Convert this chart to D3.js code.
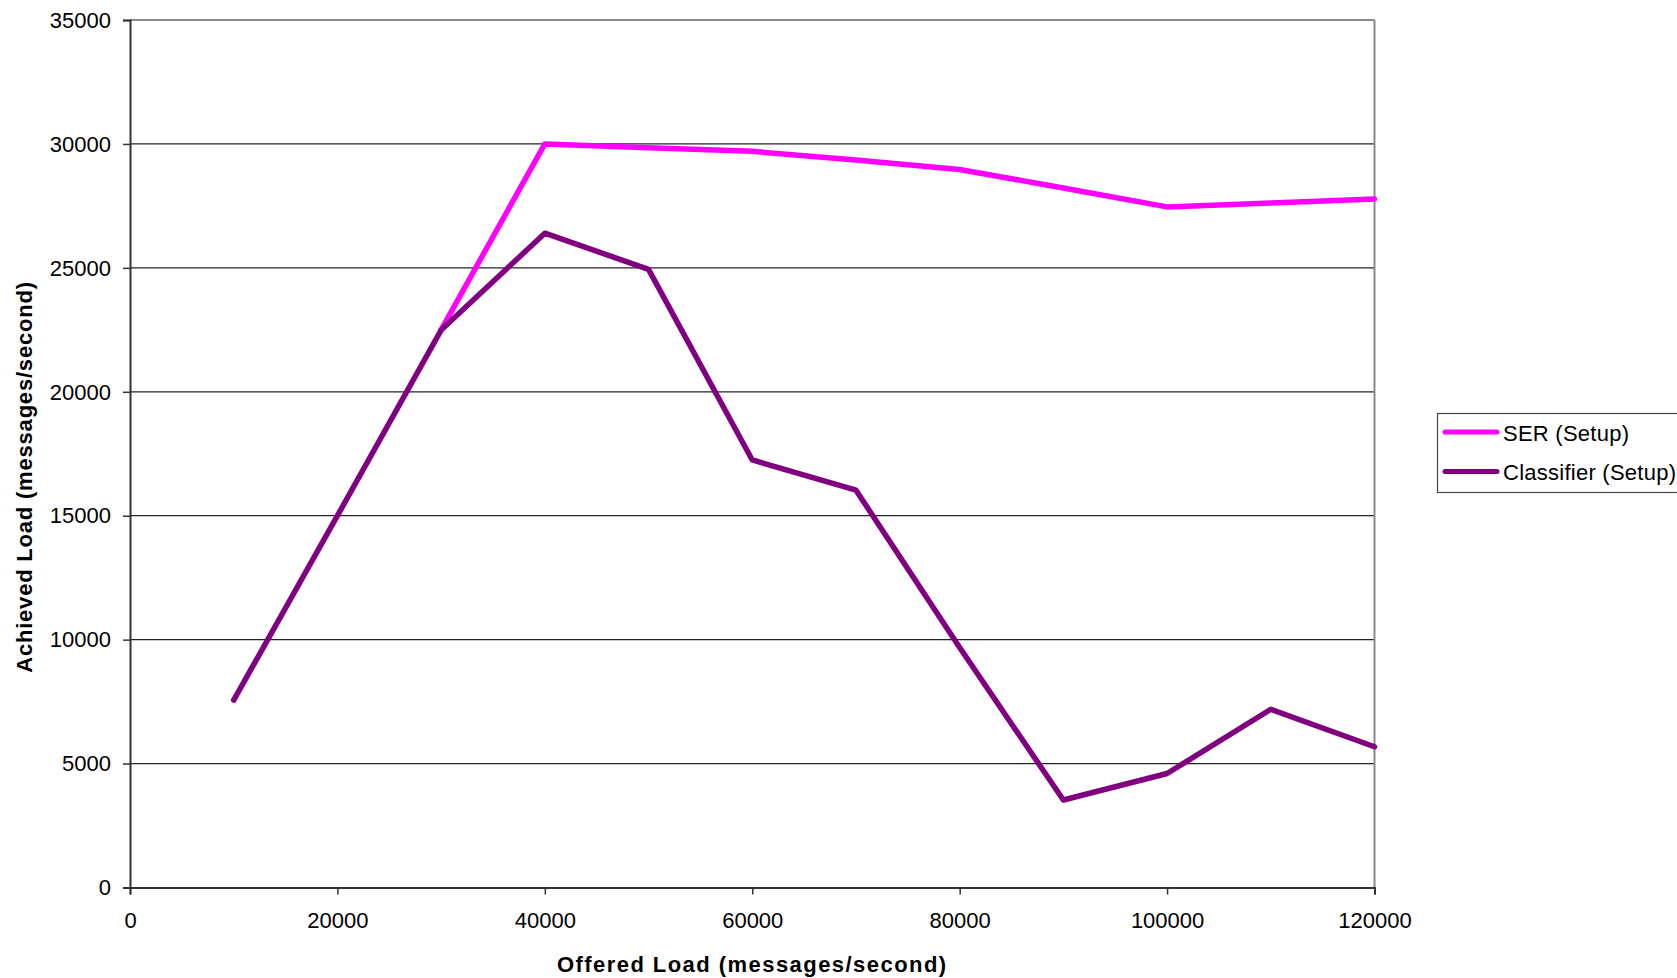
<!DOCTYPE html>
<html>
<head>
<meta charset="utf-8">
<script src="https://cdn.jsdelivr.net/npm/d3@7"></script>
<style>
  html, body { margin: 0; padding: 0; background: #fff; overflow: hidden; }
  svg { display: block; font-family: "Liberation Sans", Arial, sans-serif; }
</style>
</head>
<body>
<svg id="chart" width="1677" height="978"></svg>
<script>
// ---- data ----
const serX = [30000, 40000, 50000, 60000, 70000, 80000, 90000, 100000, 110000, 120000];
const serY = [22500, 30000, 29850, 29700, 29350, 28970, 28220, 27460, 27620, 27780];
const clsX = [10000, 20000, 30000, 40000, 50000, 60000, 70000, 80000, 90000, 100000, 110000, 120000];
const clsY = [7560, 15000, 22490, 26400, 24940, 17250, 16030, 9680, 3530, 4600, 7190, 5680];
const xTicks = [0, 20000, 40000, 60000, 80000, 100000, 120000];
const yTicks = [0, 5000, 10000, 15000, 20000, 25000, 30000, 35000];
const seriesNames = ["SER (Setup)", "Classifier (Setup)"];
const seriesColors = ["#FF00FF", "#800080"];
const xTitle = "Offered Load (messages/second)";
const yTitle = "Achieved Load (messages/second)";

// ---- layout ----
const svg = d3.select("#chart");
const L = 130, R = 1374.5, T = 20, B = 887.5;
const x = d3.scaleLinear().domain([0, 120000]).range([L, R]);
const y = d3.scaleLinear().domain([0, 35000]).range([B, T]);

// gridlines
svg.append("g")
  .selectAll("line")
  .data(yTicks.filter(d => d > 0 && d < 35000))
  .join("line")
  .attr("x1", L).attr("x2", R)
  .attr("y1", d => y(d)).attr("y2", d => y(d))
  .attr("stroke", "#222").attr("stroke-width", 1.2);

// plot border (top & right gray)
svg.append("line").attr("x1", L).attr("x2", R).attr("y1", T).attr("y2", T)
  .attr("stroke", "#8a8a8a").attr("stroke-width", 2);
svg.append("line").attr("x1", R).attr("x2", R).attr("y1", T).attr("y2", B)
  .attr("stroke", "#8a8a8a").attr("stroke-width", 2);

// axes
const yAxis = d3.axisLeft(y).tickValues(yTicks).tickSize(7).tickPadding(12).tickFormat(d3.format("d"));
const xAxis = d3.axisBottom(x).tickValues(xTicks).tickSize(7).tickPadding(18).tickFormat(d3.format("d"));

const gy = svg.append("g").attr("transform", `translate(${L},0)`).call(yAxis);
const gx = svg.append("g").attr("transform", `translate(0,${B})`).call(xAxis);
[gx, gy].forEach(g => {
  g.select(".domain").attr("stroke", "#333").attr("stroke-width", 2);
  g.selectAll(".tick line").attr("stroke", "#333").attr("stroke-width", 1.5);
  g.selectAll(".tick text").attr("fill", "#000").style("font-size", "22px")
    .style("font-family", "'Liberation Sans', Arial, sans-serif");
});
gy.selectAll(".tick text").attr("dy", "0.33em");
gx.selectAll(".tick text").attr("dy", "0.71em");

// lines
const line = d3.line().x(d => x(d[0])).y(d => y(d[1]));
const serData = serX.map((v, i) => [v, serY[i]]);
const clsData = clsX.map((v, i) => [v, clsY[i]]);
[serData, clsData].forEach((data, i) => {
  svg.append("path").datum(data)
    .attr("d", line)
    .attr("fill", "none")
    .attr("stroke", seriesColors[i])
    .attr("stroke-width", 5.5)
    .attr("stroke-linejoin", "round")
    .attr("stroke-linecap", "round");
});

// axis titles
svg.append("text")
  .attr("x", (L + R) / 2).attr("y", 972)
  .attr("text-anchor", "middle")
  .style("font-size", "22px").style("font-weight", "bold")
  .style("letter-spacing", "1.45px")
  .text(xTitle);

svg.append("text")
  .attr("transform", `translate(32,477) rotate(-90)`)
  .attr("text-anchor", "middle")
  .style("font-size", "22px").style("font-weight", "bold")
  .style("letter-spacing", "0.8px")
  .text(yTitle);

// legend
const lg = svg.append("g");
lg.append("rect").attr("x", 1437.5).attr("y", 413.5).attr("width", 260).attr("height", 79)
  .attr("fill", "#fff").attr("stroke", "#444").attr("stroke-width", 1.2);
const legY = [432, 471.5];
seriesNames.forEach((name, i) => {
  lg.append("line").attr("x1", 1445).attr("x2", 1497)
    .attr("y1", legY[i]).attr("y2", legY[i])
    .attr("stroke", seriesColors[i]).attr("stroke-width", 5).attr("stroke-linecap", "round");
  lg.append("text").attr("x", 1503).attr("y", legY[i] + 8.5)
    .style("font-size", "22px").style("letter-spacing", "0.25px").attr("fill", "#000").text(name);
});
</script>
</body>
</html>
